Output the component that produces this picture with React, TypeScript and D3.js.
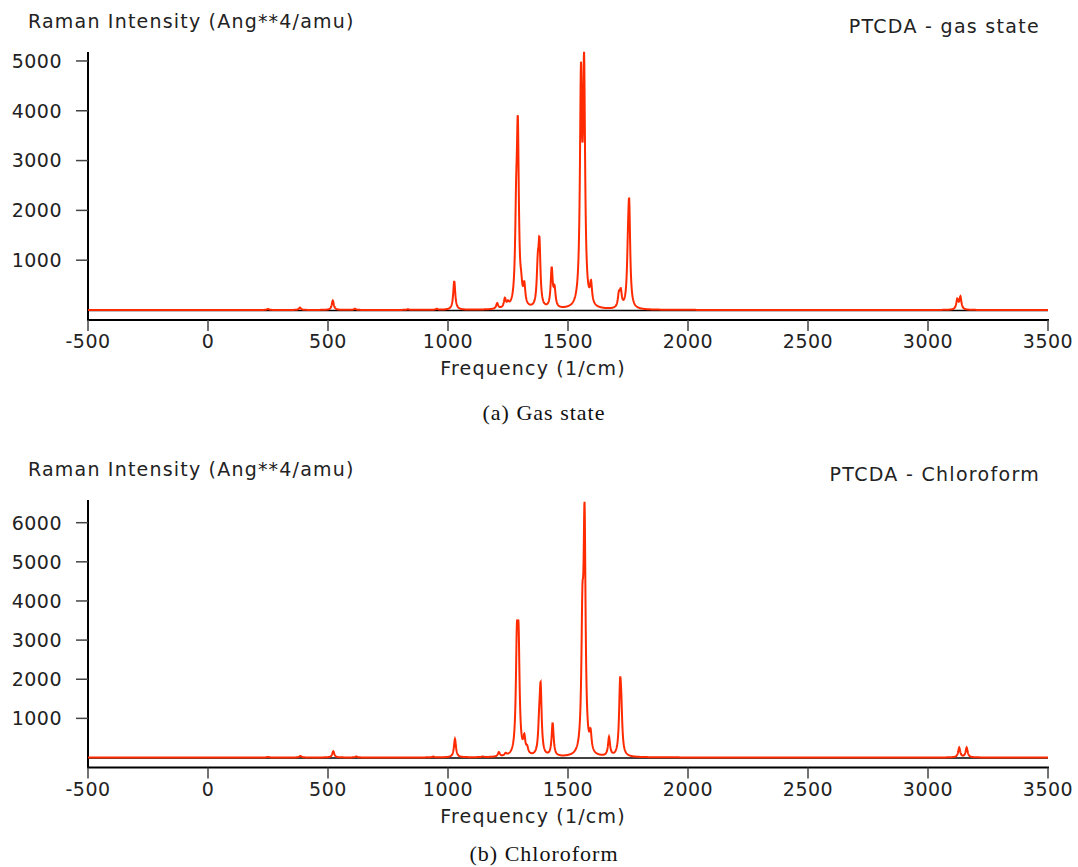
import React from "react";
import * as d3 from "d3";

// Vibrational modes (cm^-1) and their band heights (Ang**4/amu)
const gasFreq = [250, 383, 520, 612, 833, 953, 1026, 1205, 1237, 1250, 1284, 1291, 1305, 1318, 1374, 1381, 1432, 1444, 1554, 1567, 1596, 1712, 1720, 1750, 1755, 3122, 3135];
const gasHeight = [20, 50, 190, 25, 15, 20, 580, 110, 180, 80, 1500, 3350, 250, 380, 700, 1200, 780, 350, 4380, 4600, 400, 250, 300, 750, 1850, 200, 250];

const chlFreq = [250, 385, 522, 618, 938, 1029, 1144, 1212, 1240, 1287, 1294, 1318, 1330, 1380, 1386, 1436, 1560, 1569, 1594, 1671, 1717, 1722, 3130, 3161];
const chlHeight = [15, 40, 160, 25, 20, 470, 15, 110, 60, 2550, 2550, 400, 150, 600, 1650, 850, 3000, 5800, 450, 480, 1600, 850, 250, 250];

// Axis extents
const xDomain = [-500, 3500];
const gasYMax = 5180;
const chlYMax = 6580;
const xTicks = [-500, 0, 500, 1000, 1500, 2000, 2500, 3000, 3500];
const gasYTicks = [1000, 2000, 3000, 4000, 5000];
const chlYTicks = [1000, 2000, 3000, 4000, 5000, 6000];

const HWHM = 5; // Lorentzian half width at half maximum, cm^-1
const FONT = "'DejaVu Sans', sans-serif";
const RED = "#ff2a00";
const INK = "#222";

function broaden(freqs: number[], heights: number[]) {
  const pts: [number, number][] = [];
  for (let f = xDomain[0]; f <= xDomain[1]; f += 1) {
    let s = 0;
    for (let i = 0; i < freqs.length; i++) {
      const d = f - freqs[i];
      s += (heights[i] * HWHM * HWHM) / (d * d + HWHM * HWHM);
    }
    pts.push([f, s]);
  }
  return pts;
}

type PanelProps = {
  top: number; // y of the axis top
  zeroY: number; // y of zero intensity
  yMax: number;
  freqs: number[];
  heights: number[];
  yTicks: number[];
  title: string;
  caption: string;
  captionY: number;
};

function Panel({ top, zeroY, yMax, freqs, heights, yTicks, title, caption, captionY }: PanelProps) {
  const data = broaden(freqs, heights);
  const x = d3.scaleLinear().domain(xDomain).range([88, 1048]);
  const y = d3.scaleLinear().domain([0, yMax]).range([zeroY, top]);
  const axisY = zeroY + 10;
  const line = d3
    .line<[number, number]>()
    .x((d) => x(d[0]))
    .y((d) => y(d[1]));

  return (
    <g>
      <text x={28} y={top - 24} fontFamily={FONT} fontSize={19} letterSpacing={1.2} fill={INK}>
        Raman Intensity (Ang**4/amu)
      </text>
      <text x={1040} y={top - 19} fontFamily={FONT} fontSize={19} letterSpacing={1.3} fill={INK} textAnchor="end">
        {title}
      </text>
      {/* y axis */}
      <line x1={88} x2={88} y1={top} y2={axisY} stroke="#000" strokeWidth={2} />
      {yTicks.map((t) => (
        <g key={t}>
          <line x1={76} x2={88} y1={y(t)} y2={y(t)} stroke="#444" strokeWidth={1.5} />
          <text x={62} y={y(t)} dy="0.36em" fontFamily={FONT} fontSize={19} letterSpacing={0.5} fill={INK} textAnchor="end">
            {t}
          </text>
        </g>
      ))}
      {/* x axis */}
      <line x1={87} x2={1049} y1={axisY} y2={axisY} stroke="#000" strokeWidth={2} />
      {xTicks.map((t) => (
        <g key={t}>
          <line x1={x(t)} x2={x(t)} y1={axisY} y2={axisY + 11} stroke="#444" strokeWidth={1.5} />
          <text x={x(t)} y={axisY + 28} fontFamily={FONT} fontSize={19} letterSpacing={0.5} fill={INK} textAnchor="middle">
            {t}
          </text>
        </g>
      ))}
      <text x={533} y={axisY + 55} fontFamily={FONT} fontSize={19} letterSpacing={1.2} fill={INK} textAnchor="middle">
        Frequency (1/cm)
      </text>
      {/* zero line and spectrum */}
      <line x1={x(xDomain[0])} x2={x(xDomain[1])} y1={zeroY + 0.5} y2={zeroY + 0.5} stroke="#000" strokeWidth={1.5} />
      <path d={line(data) ?? ""} fill="none" stroke={RED} strokeWidth={2} strokeLinejoin="miter" />
      <text x={544} y={captionY} fontFamily="'Liberation Serif', 'DejaVu Serif', serif" fontSize={22} letterSpacing={1} fill="#111" textAnchor="middle">
        {caption}
      </text>
    </g>
  );
}

export default function App() {
  return (
    <div style={{ position: "absolute", left: 0, top: 0 }}>
      <svg width={1078} height={867} style={{ display: "block", background: "#fff" }}>
        <Panel
          top={52}
          zeroY={310}
          yMax={gasYMax}
          freqs={gasFreq}
          heights={gasHeight}
          yTicks={gasYTicks}
          title="PTCDA - gas state"
          caption="(a) Gas state"
          captionY={420}
        />
        <Panel
          top={500}
          zeroY={757.5}
          yMax={chlYMax}
          freqs={chlFreq}
          heights={chlHeight}
          yTicks={chlYTicks}
          title="PTCDA - Chloroform"
          caption="(b) Chloroform"
          captionY={861}
        />
      </svg>
    </div>
  );
}
